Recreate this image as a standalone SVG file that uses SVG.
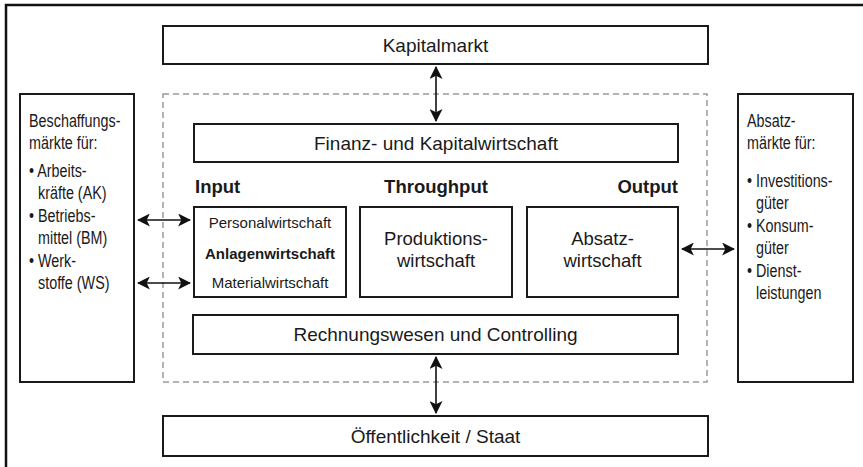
<svg xmlns="http://www.w3.org/2000/svg" width="863" height="467" viewBox="0 0 863 467">
  <style>
    .box { fill: #fff; stroke: #1a1a1a; stroke-width: 2; }
    .t { font-family: "Liberation Sans", Arial, sans-serif; fill: #1a1a1a; }
    .lg { font-size: 18.5px; }
    .xl { font-size: 19px; }
    .sm { font-size: 15px; }
    .nar { font-size: 17.5px; }
    .b { font-weight: bold; }
    .mid { text-anchor: middle; }
    .conn { stroke: #111; stroke-width: 1.6; fill: none; }
  </style>
  <defs>
    <marker id="head" viewBox="0 0 12 12" refX="11" refY="6" markerWidth="13" markerHeight="13" markerUnits="userSpaceOnUse" orient="auto-start-reverse">
      <path d="M0,0 L12,6 L0,12 L3,6 Z" fill="#111"/>
    </marker>
  </defs>
  <rect width="863" height="467" fill="#fff"/>

  <!-- outer frame -->
  <path d="M6,467 V5 H863" fill="none" stroke="#111" stroke-width="2.5"/>

  <!-- company boundary -->
  <rect x="163" y="94" width="544" height="288" fill="none" stroke="#9a9a9a" stroke-width="1.5" stroke-dasharray="6 4"/>

  <g id="kapitalmarkt">
    <rect class="box" x="163" y="26" width="545" height="38"/>
    <text class="t xl mid" x="435.5" y="52">Kapitalmarkt</text>
  </g>

  <g id="finanzwirtschaft">
    <rect class="box" x="194" y="124" width="484" height="38"/>
    <text class="t xl mid" x="436" y="150">Finanz- und Kapitalwirtschaft</text>
  </g>

  <g id="phasen">
    <text class="t lg b" x="195" y="193">Input</text>
    <text class="t lg b mid" x="436" y="193">Throughput</text>
    <text class="t lg b" x="678" y="193" text-anchor="end">Output</text>
  </g>

  <g id="input">
    <rect class="box" x="194" y="207" width="152" height="90"/>
    <text class="t sm mid" x="270" y="228" fill="#333">Personalwirtschaft</text>
    <text class="t sm b mid" x="270" y="259">Anlagenwirtschaft</text>
    <text class="t sm mid" x="270" y="288" fill="#333">Materialwirtschaft</text>
  </g>

  <g id="produktion">
    <rect class="box" x="360" y="207" width="152" height="90"/>
    <text class="t lg mid" x="436" y="245">Produktions-</text>
    <text class="t lg mid" x="436" y="267">wirtschaft</text>
  </g>

  <g id="absatz">
    <rect class="box" x="527" y="207" width="151" height="90"/>
    <text class="t lg mid" x="602.5" y="245">Absatz-</text>
    <text class="t lg mid" x="602.5" y="267">wirtschaft</text>
  </g>

  <g id="rechnungswesen">
    <rect class="box" x="193" y="315" width="485" height="39"/>
    <text class="t xl mid" x="435.5" y="341">Rechnungswesen und Controlling</text>
  </g>

  <g id="staat">
    <rect class="box" x="163" y="416" width="545" height="40"/>
    <text class="t xl mid" x="435.5" y="443">Öffentlichkeit / Staat</text>
  </g>

  <!-- side boxes use a condensed setting of the text -->
  <g id="beschaffungsmaerkte">
    <rect class="box" x="20" y="94" width="114" height="288"/>
    <text class="t nar" transform="translate(29,127) scale(0.82,1)">Beschaffungs-</text>
    <text class="t nar" transform="translate(29,149) scale(0.82,1)">märkte für:</text>
    <text class="t nar" transform="translate(29,177) scale(0.82,1)">• Arbeits-</text>
    <text class="t nar" transform="translate(38,199) scale(0.82,1)">kräfte (AK)</text>
    <text class="t nar" transform="translate(29,222) scale(0.82,1)">• Betriebs-</text>
    <text class="t nar" transform="translate(38,244) scale(0.82,1)">mittel (BM)</text>
    <text class="t nar" transform="translate(29,267) scale(0.82,1)">• Werk-</text>
    <text class="t nar" transform="translate(38,289) scale(0.82,1)">stoffe (WS)</text>
  </g>

  <g id="absatzmaerkte">
    <rect class="box" x="738" y="94" width="115" height="288"/>
    <text class="t nar" transform="translate(747,127) scale(0.82,1)">Absatz-</text>
    <text class="t nar" transform="translate(747,149) scale(0.82,1)">märkte für:</text>
    <text class="t nar" transform="translate(747,187) scale(0.82,1)">• Investitions-</text>
    <text class="t nar" transform="translate(756,209) scale(0.82,1)">güter</text>
    <text class="t nar" transform="translate(747,232) scale(0.82,1)">• Konsum-</text>
    <text class="t nar" transform="translate(756,254) scale(0.82,1)">güter</text>
    <text class="t nar" transform="translate(747,277) scale(0.82,1)">• Dienst-</text>
    <text class="t nar" transform="translate(756,299) scale(0.82,1)">leistungen</text>
  </g>

  <g id="connectors">
    <line class="conn" x1="436" y1="67" x2="436" y2="121" marker-start="url(#head)" marker-end="url(#head)"/>
    <line class="conn" x1="436" y1="357" x2="436" y2="413" marker-start="url(#head)" marker-end="url(#head)"/>
    <line class="conn" x1="138" y1="220" x2="190" y2="220" marker-start="url(#head)" marker-end="url(#head)"/>
    <line class="conn" x1="138" y1="283" x2="190" y2="283" marker-start="url(#head)" marker-end="url(#head)"/>
    <line class="conn" x1="682" y1="249" x2="734" y2="249" marker-start="url(#head)" marker-end="url(#head)"/>
  </g>
</svg>
